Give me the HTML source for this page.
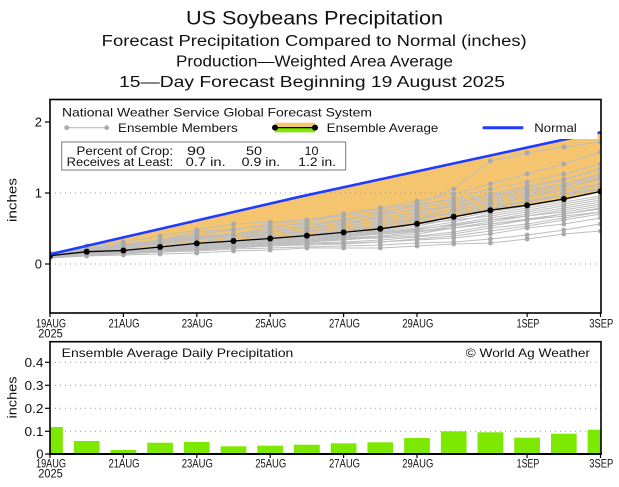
<!DOCTYPE html>
<html><head><meta charset="utf-8"><style>
html,body{margin:0;padding:0;background:#fff;}
svg{display:block;}
text{font-family:"Liberation Sans",sans-serif;fill:#111;}
</style></head><body>
<svg width="619" height="487" viewBox="0 0 619 487" xmlns="http://www.w3.org/2000/svg">
<defs>
<marker id="mg" markerWidth="6" markerHeight="6" refX="3" refY="3" markerUnits="userSpaceOnUse"><circle cx="3" cy="3" r="2.4" fill="#a9a9a9"/></marker>
<marker id="mk" markerWidth="8" markerHeight="8" refX="4" refY="4" markerUnits="userSpaceOnUse"><circle cx="4" cy="4" r="3" fill="#000"/></marker>
<clipPath id="c1"><rect x="50" y="99.5" width="551" height="213.5"/></clipPath>
<clipPath id="c2"><rect x="50" y="341.7" width="551" height="112.3"/></clipPath>
</defs>

<!-- Titles -->
<text x="314.5" y="24.5" font-size="19" text-anchor="middle" textLength="257" lengthAdjust="spacingAndGlyphs">US Soybeans Precipitation</text>
<text x="314.2" y="46" font-size="15.5" text-anchor="middle" textLength="425" lengthAdjust="spacingAndGlyphs">Forecast Precipitation Compared to Normal (inches)</text>
<text x="314.5" y="66.5" font-size="15.5" text-anchor="middle" textLength="277" lengthAdjust="spacingAndGlyphs">Production—Weighted Area Average</text>
<text x="312" y="87" font-size="15.5" text-anchor="middle" textLength="386" lengthAdjust="spacingAndGlyphs">15—Day Forecast Beginning 19 August 2025</text>

<!-- Top chart -->
<g clip-path="url(#c1)">
<polygon fill="#f5c46e" points="50,254.3 300,196.7 565,139.3 601,132.3 600.5,191.5 563.8,199 527.1,205.2 490.4,210.2 453.7,216.8 417,223.8 380.3,228.8 343.6,232.4 306.9,235.6 270.2,238.5 233.5,241 196.8,243.4 160.1,247 123.4,250.5 86.7,251.7 50,255.7"/>
<g stroke="#999" stroke-width="1" stroke-dasharray="1,4">
<line x1="50" y1="193" x2="601" y2="193"/>
<line x1="50" y1="264" x2="601" y2="264"/>
</g>
<g transform="matrix(1,0,0,-1,0,264)" fill="none" stroke="#bdbdbd" stroke-width="1" marker-start="url(#mg)" marker-mid="url(#mg)" marker-end="url(#mg)">
<polyline points="50,10 86.7,16 123.4,20 160.1,24 196.8,32 233.5,35 270.2,38 306.9,40 343.6,45 380.3,50 417,60 453.7,75 490.4,103 527.1,111 563.8,117 600.5,122"/>
<polyline points="50,11 86.7,18 123.4,22 160.1,28 196.8,34 233.5,40 270.2,42 306.9,44 343.6,50 380.3,56 417,63 453.7,70 490.4,80 527.1,90 563.8,100 600.5,112"/>
<polyline points="50,9 86.7,14 123.4,18 160.1,24 196.8,30 233.5,34 270.2,40 306.9,44 343.6,48 380.3,52 417,58 453.7,66 490.4,75 527.1,82 563.8,90 600.5,100"/>
<polyline points="50,10 86.7,15 123.4,18 160.1,22 196.8,26 233.5,30 270.2,36 306.9,42 343.6,50 380.3,55 417,60 453.7,64 490.4,70 527.1,78 563.8,85 600.5,95"/>
<polyline points="50,8 86.7,13 123.4,16 160.1,20 196.8,24 233.5,28 270.2,32 306.9,36 343.6,40 380.3,48 417,56 453.7,62 490.4,68 527.1,74 563.8,80 600.5,88"/>
<polyline points="50,9 86.7,14 123.4,17 160.1,21 196.8,25 233.5,30 270.2,34 306.9,38 343.6,44 380.3,50 417,54 453.7,58 490.4,62 527.1,68 563.8,76 600.5,85"/>
<polyline points="50,7 86.7,12 123.4,14 160.1,18 196.8,22 233.5,26 270.2,30 306.9,33 343.6,38 380.3,42 417,48 453.7,54 490.4,60 527.1,66 563.8,74 600.5,80"/>
<polyline points="50,8 86.7,12 123.4,15 160.1,17 196.8,20 233.5,23 270.2,27 306.9,30 343.6,34 380.3,38 417,44 453.7,52 490.4,58 527.1,63 563.8,70 600.5,76"/>
<polyline points="50,9 86.7,13 123.4,15 160.1,18 196.8,21 233.5,24 270.2,26 306.9,28 343.6,30 380.3,33 417,38 453.7,45 490.4,52 527.1,58 563.8,64 600.5,72"/>
<polyline points="50,10 86.7,12 123.4,14 160.1,17 196.8,20 233.5,22 270.2,24 306.9,26 343.6,29 380.3,32 417,36 453.7,42 490.4,50 527.1,56 563.8,62 600.5,68"/>
<polyline points="50,8 86.7,11 123.4,13 160.1,15 196.8,18 233.5,20 270.2,22 306.9,24 343.6,27 380.3,30 417,34 453.7,40 490.4,46 527.1,52 563.8,58 600.5,64"/>
<polyline points="50,7 86.7,10 123.4,12 160.1,14 196.8,17 233.5,19 270.2,21 306.9,23 343.6,26 380.3,28 417,32 453.7,38 490.4,44 527.1,50 563.8,56 600.5,62"/>
<polyline points="50,8 86.7,11 123.4,12 160.1,14 196.8,16 233.5,18 270.2,20 306.9,22 343.6,24 380.3,27 417,30 453.7,36 490.4,42 527.1,48 563.8,52 600.5,58"/>
<polyline points="50,9 86.7,12 123.4,13 160.1,15 196.8,17 233.5,19 270.2,21 306.9,23 343.6,25 380.3,26 417,28 453.7,32 490.4,38 527.1,44 563.8,50 600.5,56"/>
<polyline points="50,7 86.7,10 123.4,11 160.1,13 196.8,15 233.5,17 270.2,19 306.9,21 343.6,22 380.3,24 417,27 453.7,30 490.4,36 527.1,40 563.8,46 600.5,52"/>
<polyline points="50,6 86.7,9 123.4,10 160.1,12 196.8,14 233.5,16 270.2,18 306.9,20 343.6,21 380.3,22 417,25 453.7,28 490.4,33 527.1,38 563.8,44 600.5,50"/>
<polyline points="50,8 86.7,10 123.4,11 160.1,13 196.8,15 233.5,17 270.2,18 306.9,19 343.6,20 380.3,22 417,24 453.7,26 490.4,30 527.1,36 563.8,40 600.5,46"/>
<polyline points="50,7 86.7,9 123.4,10 160.1,12 196.8,13 233.5,15 270.2,16 306.9,17 343.6,18 380.3,19 417,21 453.7,22 490.4,25 527.1,29 563.8,34 600.5,40"/>
<polyline points="50,6 86.7,8 123.4,9 160.1,10 196.8,11 233.5,13 270.2,14 306.9,16 343.6,16 380.3,16 417,18 453.7,20 490.4,21 527.1,25 563.8,30 600.5,33"/>
<polyline points="50,9 86.7,14 123.4,17 160.1,22 196.8,26 233.5,28 270.2,30 306.9,32 343.6,36 380.3,40 417,46 453.7,50 490.4,56 527.1,62 563.8,68 600.5,75"/>
<polyline points="50,10 86.7,15 123.4,19 160.1,24 196.8,28 233.5,30 270.2,32 306.9,35 343.6,40 380.3,44 417,50 453.7,58 490.4,66 527.1,72 563.8,80 600.5,90"/>
<polyline points="50,8 86.7,12 123.4,15 160.1,18 196.8,22 233.5,26 270.2,28 306.9,30 343.6,33 380.3,36 417,42 453.7,48 490.4,55 527.1,62 563.8,70 600.5,80"/>
<polyline points="50,7 86.7,11 123.4,14 160.1,17 196.8,20 233.5,22 270.2,24 306.9,27 343.6,30 380.3,34 417,40 453.7,44 490.4,48 527.1,54 563.8,60 600.5,66"/>
<polyline points="50,8 86.7,12 123.4,14 160.1,16 196.8,19 233.5,21 270.2,23 306.9,25 343.6,28 380.3,31 417,35 453.7,39 490.4,44 527.1,48 563.8,54 600.5,60"/>
<polyline points="50,9 86.7,13 123.4,15 160.1,17 196.8,20 233.5,22 270.2,25 306.9,28 343.6,33 380.3,38 417,45 453.7,55 490.4,64 527.1,70 563.8,78 600.5,86"/>
<polyline points="50,11 86.7,16 123.4,19 160.1,23 196.8,27 233.5,30 270.2,34 306.9,38 343.6,42 380.3,46 417,52 453.7,60 490.4,68 527.1,76 563.8,84 600.5,95"/>
<polyline points="50,6 86.7,9 123.4,11 160.1,13 196.8,16 233.5,18 270.2,20 306.9,22 343.6,25 380.3,28 417,32 453.7,36 490.4,40 527.1,45 563.8,50 600.5,55"/>
<polyline points="50,8 86.7,11 123.4,13 160.1,16 196.8,18 233.5,20 270.2,23 306.9,25 343.6,28 380.3,30 417,33 453.7,36 490.4,40 527.1,44 563.8,48 600.5,52"/>
</g>
<g transform="matrix(1,0,0,-1,0,264)">
<polyline fill="none" stroke="#000" stroke-width="1.3" marker-start="url(#mk)" marker-mid="url(#mk)" marker-end="url(#mk)" points="50,8.3 86.7,12.3 123.4,13.5 160.1,17 196.8,20.6 233.5,23 270.2,25.5 306.9,28.4 343.6,31.6 380.3,35.2 417,40.2 453.7,47.2 490.4,53.8 527.1,58.8 563.8,65 600.5,72.5"/>
</g>
<polyline fill="none" stroke="#1e3cff" stroke-width="2.6" points="50,254.3 300,196.7 565,139.3 601,132.3"/>
<!-- legend box -->
<rect x="51" y="100.5" width="546.5" height="38.5" fill="#fff"/>
</g>
<rect x="50" y="99.5" width="551" height="213.5" fill="none" stroke="#000" stroke-width="1.6"/>

<!-- legend -->
<text x="62" y="116.5" font-size="12" textLength="310" lengthAdjust="spacingAndGlyphs">National Weather Service Global Forecast System</text>
<line x1="66.7" y1="127.7" x2="106.7" y2="127.7" stroke="#bdbdbd" stroke-width="1.2" marker-start="url(#mg)" marker-end="url(#mg)"/>
<text x="118" y="132" font-size="12" textLength="119.7" lengthAdjust="spacingAndGlyphs">Ensemble Members</text>
<rect x="275" y="122.7" width="40" height="5" fill="#f5c46e"/>
<rect x="275" y="128" width="40" height="4.3" fill="#7de800"/>
<line x1="275" y1="127.6" x2="315" y2="127.6" stroke="#000" stroke-width="1.3" marker-start="url(#mk)" marker-end="url(#mk)"/>
<text x="326.7" y="132" font-size="12" textLength="111.6" lengthAdjust="spacingAndGlyphs">Ensemble Average</text>
<line x1="482.7" y1="127.7" x2="523.3" y2="127.7" stroke="#1e3cff" stroke-width="3"/>
<text x="534.3" y="132" font-size="12" textLength="42.4" lengthAdjust="spacingAndGlyphs">Normal</text>

<rect x="61.7" y="142" width="284" height="28" fill="#fff" stroke="#777" stroke-width="1"/>
<text x="76.5" y="155" font-size="11.5" textLength="96.5" lengthAdjust="spacingAndGlyphs">Percent of Crop:</text>
<text x="66.7" y="166" font-size="11.5" textLength="106.5" lengthAdjust="spacingAndGlyphs">Receives at Least:</text>
<text x="196" y="155" font-size="11.5" text-anchor="middle" textLength="18" lengthAdjust="spacingAndGlyphs">90</text>
<text x="254" y="155" font-size="11.5" text-anchor="middle" textLength="16" lengthAdjust="spacingAndGlyphs">50</text>
<text x="311.5" y="155" font-size="11.5" text-anchor="middle" textLength="14" lengthAdjust="spacingAndGlyphs">10</text>
<text x="185.7" y="166" font-size="11.5" textLength="40" lengthAdjust="spacingAndGlyphs">0.7 in.</text>
<text x="241.7" y="166" font-size="11.5" textLength="38.5" lengthAdjust="spacingAndGlyphs">0.9 in.</text>
<text x="298.3" y="166" font-size="11.5" textLength="37.7" lengthAdjust="spacingAndGlyphs">1.2 in.</text>

<!-- top y axis -->
<g stroke="#000" stroke-width="1.2">
<line x1="45" y1="122" x2="50" y2="122"/>
<line x1="45" y1="193" x2="50" y2="193"/>
<line x1="45" y1="264" x2="50" y2="264"/>
</g>
<text x="42" y="126.5" font-size="13" text-anchor="end">2</text>
<text x="42" y="197.5" font-size="13" text-anchor="end">1</text>
<text x="42" y="268.5" font-size="13" text-anchor="end">0</text>
<text transform="translate(16.5,200) rotate(-90)" font-size="13" text-anchor="middle" textLength="44" lengthAdjust="spacingAndGlyphs">inches</text>

<!-- top x axis ticks/labels -->
<g stroke="#000" stroke-width="1.2">
<line x1="50" y1="313" x2="50" y2="317"/>
<line x1="123.4" y1="313" x2="123.4" y2="317"/>
<line x1="196.8" y1="313" x2="196.8" y2="317"/>
<line x1="270.2" y1="313" x2="270.2" y2="317"/>
<line x1="343.6" y1="313" x2="343.6" y2="317"/>
<line x1="417" y1="313" x2="417" y2="317"/>
<line x1="527.1" y1="313" x2="527.1" y2="317"/>
<line x1="600.5" y1="313" x2="600.5" y2="317"/>
</g>
<g font-size="11.5" text-anchor="middle">
<text x="51" y="327.5" textLength="30" lengthAdjust="spacingAndGlyphs">19AUG</text>
<text x="50.5" y="337.5" textLength="24.5" lengthAdjust="spacingAndGlyphs">2025</text>
<text x="124" y="327.5" textLength="31" lengthAdjust="spacingAndGlyphs">21AUG</text>
<text x="197.3" y="327.5" textLength="31" lengthAdjust="spacingAndGlyphs">23AUG</text>
<text x="270.7" y="327.5" textLength="31" lengthAdjust="spacingAndGlyphs">25AUG</text>
<text x="344.5" y="327.5" textLength="31" lengthAdjust="spacingAndGlyphs">27AUG</text>
<text x="417.8" y="327.5" textLength="31" lengthAdjust="spacingAndGlyphs">29AUG</text>
<text x="528" y="327.5" textLength="22.7" lengthAdjust="spacingAndGlyphs">1SEP</text>
<text x="601.3" y="327.5" textLength="24" lengthAdjust="spacingAndGlyphs">3SEP</text>
</g>

<!-- Bottom chart -->
<g stroke="#999" stroke-width="1" stroke-dasharray="1,4">
<line x1="50" y1="362.3" x2="601" y2="362.3"/>
<line x1="50" y1="385.3" x2="601" y2="385.3"/>
<line x1="50" y1="408.3" x2="601" y2="408.3"/>
<line x1="50" y1="431.3" x2="601" y2="431.3"/>
</g>
<g clip-path="url(#c2)" fill="#7de800">
<rect x="37.15" y="427" width="25.7" height="27"/>
<rect x="73.85" y="441" width="25.7" height="13"/>
<rect x="110.55" y="450" width="25.7" height="4"/>
<rect x="147.25" y="442.7" width="25.7" height="11.3"/>
<rect x="183.95" y="442" width="25.7" height="12"/>
<rect x="220.65" y="446.3" width="25.7" height="7.7"/>
<rect x="257.35" y="445.7" width="25.7" height="8.3"/>
<rect x="294.05" y="444.7" width="25.7" height="9.3"/>
<rect x="330.75" y="443.3" width="25.7" height="10.7"/>
<rect x="367.45" y="442.3" width="25.7" height="11.7"/>
<rect x="404.15" y="438" width="25.7" height="16"/>
<rect x="440.85" y="431.3" width="25.7" height="22.7"/>
<rect x="477.55" y="432.3" width="25.7" height="21.7"/>
<rect x="514.25" y="437.7" width="25.7" height="16.3"/>
<rect x="550.95" y="433.7" width="25.7" height="20.3"/>
<rect x="587.65" y="429.7" width="25.7" height="24.3"/>
</g>
<rect x="50" y="341.7" width="551" height="112.3" fill="none" stroke="#000" stroke-width="1.6"/>
<line x1="49" y1="454" x2="602" y2="454" stroke="#000" stroke-width="2"/>

<text x="61.7" y="357" font-size="12" textLength="231.6" lengthAdjust="spacingAndGlyphs">Ensemble Average Daily Precipitation</text>
<text x="465.7" y="357" font-size="12" textLength="124.3" lengthAdjust="spacingAndGlyphs">© World Ag Weather</text>

<g stroke="#000" stroke-width="1.2">
<line x1="45" y1="362.3" x2="50" y2="362.3"/>
<line x1="45" y1="385.3" x2="50" y2="385.3"/>
<line x1="45" y1="408.3" x2="50" y2="408.3"/>
<line x1="45" y1="431.3" x2="50" y2="431.3"/>
<line x1="45" y1="454" x2="50" y2="454"/>
<line x1="50" y1="454" x2="50" y2="458"/>
<line x1="123.4" y1="454" x2="123.4" y2="458"/>
<line x1="196.8" y1="454" x2="196.8" y2="458"/>
<line x1="270.2" y1="454" x2="270.2" y2="458"/>
<line x1="343.6" y1="454" x2="343.6" y2="458"/>
<line x1="417" y1="454" x2="417" y2="458"/>
<line x1="527.1" y1="454" x2="527.1" y2="458"/>
<line x1="600.5" y1="454" x2="600.5" y2="458"/>
</g>
<g font-size="13" text-anchor="end">
<text x="43.5" y="366.8" textLength="19" lengthAdjust="spacingAndGlyphs">0.4</text>
<text x="43.5" y="389.8" textLength="19" lengthAdjust="spacingAndGlyphs">0.3</text>
<text x="43.5" y="412.8" textLength="19" lengthAdjust="spacingAndGlyphs">0.2</text>
<text x="43.5" y="435.8" textLength="19" lengthAdjust="spacingAndGlyphs">0.1</text>
<text x="43.5" y="458.5">0</text>
</g>
<text transform="translate(16.5,397.5) rotate(-90)" font-size="13" text-anchor="middle" textLength="42" lengthAdjust="spacingAndGlyphs">inches</text>

<g font-size="11.5" text-anchor="middle">
<text x="51" y="467.5" textLength="30" lengthAdjust="spacingAndGlyphs">19AUG</text>
<text x="50.5" y="477.5" textLength="24.5" lengthAdjust="spacingAndGlyphs">2025</text>
<text x="124" y="467.5" textLength="31" lengthAdjust="spacingAndGlyphs">21AUG</text>
<text x="197.3" y="467.5" textLength="31" lengthAdjust="spacingAndGlyphs">23AUG</text>
<text x="270.7" y="467.5" textLength="31" lengthAdjust="spacingAndGlyphs">25AUG</text>
<text x="344.5" y="467.5" textLength="31" lengthAdjust="spacingAndGlyphs">27AUG</text>
<text x="417.8" y="467.5" textLength="31" lengthAdjust="spacingAndGlyphs">29AUG</text>
<text x="528" y="467.5" textLength="22.7" lengthAdjust="spacingAndGlyphs">1SEP</text>
<text x="601.3" y="467.5" textLength="24" lengthAdjust="spacingAndGlyphs">3SEP</text>
</g>
</svg>
</body></html>
